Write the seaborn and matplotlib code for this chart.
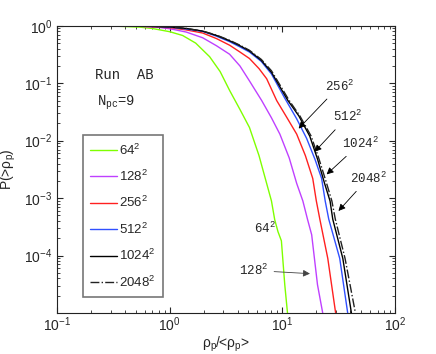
import numpy as np
import pandas as pd
import matplotlib
matplotlib.use('Agg')
import matplotlib.pyplot as plt
import seaborn as sns

# values: rho_p/<rho_p>  vs  P(>rho_p)
x_64 = [0.1, 0.3, 0.54, 0.7, 1.0, 1.3, 1.7, 2.26, 2.8, 3.4, 4.2, 5.1, 6.2, 7.25, 8.0, 8.55, 9.14, 9.8, 10.5, 11.1]
p_64 = [1.0, 0.995, 0.95, 0.9, 0.79, 0.68, 0.5, 0.29, 0.16, 0.075, 0.035, 0.017, 0.0055, 0.0018,
        8.9e-4, 4.2e-4, 2.6e-4, 1.8e-4, 3.1e-5, 1e-5]

x_128 = [0.1, 0.5, 0.8, 1.0, 1.4, 1.96, 2.6, 3.4, 4.2, 5.1, 6.55, 8.0, 9.5, 11.5, 13.4, 15.2, 16.7,
         18.2, 20.5, 22.8]
p_128 = [1.0, 0.99, 0.94, 0.89, 0.78, 0.62, 0.45, 0.32, 0.2, 0.11, 0.05, 0.025, 0.013, 0.005, 0.0018,
         8.9e-4, 4.3e-4, 2.3e-4, 3.1e-5, 1e-5]

x_256 = [0.1, 0.5, 1.0, 1.4, 1.96, 2.6, 3.4, 4.2, 5.1, 6.2, 7.25, 8.9, 11.0, 13.4, 16.0, 18.6, 20.0,
         21.5, 25.3, 29.7]
p_256 = [1.0, 0.995, 0.93, 0.85, 0.75, 0.6, 0.46, 0.35, 0.27, 0.18, 0.12, 0.05, 0.025, 0.013, 0.0055,
         0.0022, 9e-4, 4.3e-4, 8.9e-5, 1e-5]

x_512 = [0.1, 0.5, 1.0, 1.4, 1.96, 2.6, 3.4, 4.2, 5.1, 6.5, 8.0, 10.5, 13.4, 16.4, 19.5, 22.3, 24.0,
         25.8, 32.3, 38.0]
p_512 = [1.0, 0.997, 0.95, 0.88, 0.8, 0.66, 0.53, 0.43, 0.35, 0.24, 0.145, 0.055, 0.024, 0.011, 0.0047,
         0.0022, 8.9e-4, 4.3e-4, 8.9e-5, 1e-5]

x_1024 = [0.1, 0.5, 1.0, 1.4, 1.96, 2.6, 3.4, 4.2, 5.1, 6.5, 8.0, 11.2, 14.0, 17.5, 20.5, 23.7, 26.5,
          28.0, 34.4, 41.0]
p_1024 = [1.0, 0.998, 0.96, 0.9, 0.81, 0.68, 0.55, 0.45, 0.365, 0.25, 0.155, 0.05, 0.027, 0.012, 0.0048,
          0.0018, 8.9e-4, 4.3e-4, 8.9e-5, 1e-5]

x_2048 = [0.1, 0.5, 1.0, 1.4, 1.96, 2.6, 3.4, 4.2, 5.1, 6.5, 8.0, 11.5, 14.3, 18.0, 21.0, 24.5, 27.5,
          29.5, 36.0, 44.5]
p_2048 = [1.0, 0.998, 0.96, 0.9, 0.81, 0.69, 0.56, 0.46, 0.375, 0.26, 0.165, 0.05, 0.027, 0.012, 0.005,
          0.0019, 8.9e-4, 4.3e-4, 8.9e-5, 1e-5]

labels = ['64$^2$', '128$^2$', '256$^2$', '512$^2$', '1024$^2$', '2048$^2$']
colors = ['#7fff00', '#bf40ff', '#ff2020', '#3050ff', 'black', '#222222']
styles = ['-', '-', '-', '-', '-', '-.']

series = [(x_64, p_64), (x_128, p_128), (x_256, p_256),
          (x_512, p_512), (x_1024, p_1024), (x_2048, p_2048)]

sns.set_style('ticks')
plt.rcParams['font.family'] = ['Liberation Sans', 'DejaVu Sans']
plt.rcParams['mathtext.default'] = 'regular'
plt.rcParams['xtick.direction'] = 'in'
plt.rcParams['ytick.direction'] = 'in'

fig = plt.figure(figsize=(4.36, 3.54), dpi=100)
ax = fig.add_axes([0.131, 0.116, 0.775, 0.811])

for (xs, ps), lab, c, ls in zip(series, labels, colors, styles):
    df = pd.DataFrame({'x': xs, 'p': ps})
    sns.lineplot(data=df, x='x', y='p', ax=ax, color=c, linestyle=ls,
                 linewidth=1.0, label=lab, sort=False)

ax.set_xscale('log')
ax.set_yscale('log')
ax.set_xlim(0.1, 100)
ax.set_ylim(1e-5, 1)
ax.tick_params(which='both', top=True, right=True, labelsize=10)
ax.tick_params(which='major', length=4)
ax.tick_params(which='minor', length=2)
ax.tick_params(axis='x', pad=2)
ax.set_yticks([1, 0.1, 0.01, 1e-3, 1e-4])
ax.set_xlabel(r'$\rho_p$/<$\rho_p$>', fontsize=10, labelpad=0)
ax.set_ylabel(r'P(>$\rho_p$)', fontsize=10, labelpad=4)
for s in ax.spines.values():
    s.set_color('#222222')

mono = 'Liberation Mono'
ax.text(0.215, 0.14, 'Run  AB', fontsize=10, family=mono, va='center')
ax.text(0.225, 0.045, 'N$_{pc}$=9', fontsize=10, family=mono, va='center')

arrow = dict(arrowstyle='-|>', color='black', lw=0.6, mutation_scale=10)
ax.annotate('256$^2$', xy=(13.4, 0.015), xytext=(23.7, 0.089), fontsize=9,
            family=mono, va='center', arrowprops=arrow)
ax.annotate('512$^2$', xy=(18.6, 0.0059), xytext=(27.9, 0.026), fontsize=9,
            family=mono, va='center', arrowprops=arrow)
ax.annotate('1024$^2$', xy=(23.7, 0.0024), xytext=(33.6, 0.0089), fontsize=9,
            family=mono, va='center', arrowprops=arrow)
ax.annotate('2048$^2$', xy=(30.3, 5.5e-4), xytext=(39.5, 0.0022), fontsize=9,
            family=mono, va='center', arrowprops=arrow)
ax.text(7.0, 3.0e-4, '64$^2$', fontsize=9, family=mono, ha='center', va='center')
ax.annotate('128$^2$', xy=(18.6, 4.8e-5), xytext=(4.1, 5.5e-5), fontsize=9,
            family=mono, va='center',
            arrowprops=dict(arrowstyle='-|>', color='#444444', lw=0.6, mutation_scale=10))

leg = ax.legend(loc='lower left', bbox_to_anchor=(0.077, 0.056), fontsize=9.5,
                fancybox=False, framealpha=1, edgecolor='#777777',
                labelspacing=0.85, handlelength=2.0, handletextpad=0.2,
                borderpad=0.55, borderaxespad=0)
leg.get_frame().set_linewidth(1.2)

fig.savefig('out.png', dpi=100)
